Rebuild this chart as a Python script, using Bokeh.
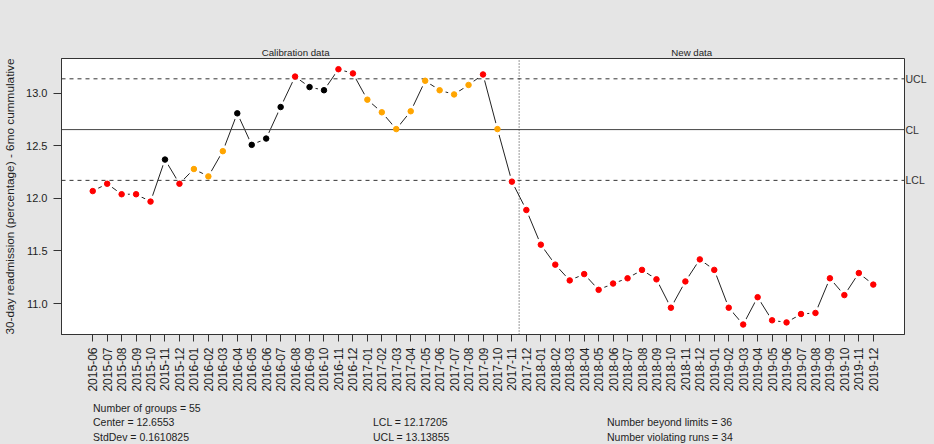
from math import pi
from bokeh.plotting import figure
from bokeh.models import Range1d, FixedTicker, LinearAxis, PrintfTickFormatter, Div
from bokeh.layouts import column
from bokeh.embed import file_html
from bokeh.resources import INLINE

# ---------------- data ----------------
months = [
    "2015-06", "2015-07", "2015-08", "2015-09", "2015-10", "2015-11", "2015-12",
    "2016-01", "2016-02", "2016-03", "2016-04", "2016-05", "2016-06", "2016-07",
    "2016-08", "2016-09", "2016-10", "2016-11", "2016-12",
    "2017-01", "2017-02", "2017-03", "2017-04", "2017-05", "2017-06", "2017-07",
    "2017-08", "2017-09", "2017-10", "2017-11", "2017-12",
    "2018-01", "2018-02", "2018-03", "2018-04", "2018-05", "2018-06", "2018-07",
    "2018-08", "2018-09", "2018-10", "2018-11", "2018-12",
    "2019-01", "2019-02", "2019-03", "2019-04", "2019-05", "2019-06", "2019-07",
    "2019-08", "2019-09", "2019-10", "2019-11", "2019-12",
]

readmission = [
    12.07, 12.14, 12.04, 12.04, 11.97, 12.37, 12.14, 12.28, 12.21, 12.45,
    12.81, 12.51, 12.57, 12.87, 13.16, 13.06, 13.03, 13.23, 13.19, 12.94,
    12.82, 12.66, 12.83, 13.12, 13.03, 12.99, 13.08, 13.18, 12.66, 12.16,
    11.89, 11.56, 11.37, 11.22, 11.28, 11.13, 11.19, 11.24, 11.32, 11.23,
    10.96, 11.21, 11.42, 11.32, 10.96, 10.80, 11.06, 10.84, 10.82, 10.90,
    10.91, 11.24, 11.08, 11.29, 11.18,
]

# b = beyond limits, r = violating runs, o = in control
status = [
    "b", "b", "b", "b", "b", "o", "b", "r", "r", "r",
    "o", "o", "o", "o", "b", "o", "o", "b", "b", "r",
    "r", "r", "r", "r", "r", "r", "r", "b", "r", "b",
    "b", "b", "b", "b", "b", "b", "b", "b", "b", "b",
    "b", "b", "b", "b", "b", "b", "b", "b", "b", "b",
    "b", "b", "b", "b", "b",
]

y_ticks = [11.0, 11.5, 12.0, 12.5, 13.0]
section_labels = ["Calibration data", "New data"]
section_centers = [15.04, 42.44]

N_GROUPS = 55
N_CALIBRATION = 30
CENTER = 12.6553
STDDEV = 0.1610825
LCL = 12.17205
UCL = 13.13855
N_BEYOND = 36
N_RUNS = 34

# ---------------- styling ----------------
BG = "#e5e5e5"
FONT = "Liberation Sans"
INK = "#1e1e1e"
AX = "#333333"
status_color = {"b": "#ff0000", "r": "#ffa500", "o": "#000000"}

idx = list(range(1, len(readmission) + 1))
colors = [status_color[s] for s in status]

X_LO, X_HI = -1.16, 57.16
Y_LO, Y_HI = 10.705, 13.332

W = 934
H_PLOT = 396
H_STATS = 48

p = figure(width=W, height=H_PLOT, output_backend="svg", toolbar_location=None,
           x_range=Range1d(X_LO, X_HI), y_range=Range1d(Y_LO, Y_HI),
           min_border_left=58, min_border_right=30, min_border_top=58,
           min_border_bottom=62, background_fill_color="white",
           border_fill_color=BG, outline_line_color=AX, outline_line_width=1)
p.grid.visible = False

# x axis (bottom)
p.xaxis.ticker = FixedTicker(ticks=idx)
p.xaxis.major_label_overrides = {i: m for i, m in zip(idx, months)}
p.xaxis.major_label_orientation = pi / 2
p.xaxis.minor_tick_line_color = None
p.xaxis.major_tick_in = 0
p.xaxis.major_tick_out = 7
p.xaxis.major_label_standoff = 6
p.xaxis.axis_line_color = AX
p.xaxis.major_tick_line_color = AX
p.xaxis.major_label_text_font = FONT
p.xaxis.major_label_text_font_size = "12px"
p.xaxis.major_label_text_color = INK

# y axis (left)
p.yaxis.ticker = FixedTicker(ticks=y_ticks)
p.yaxis.formatter = PrintfTickFormatter(format="%.1f")
p.yaxis.minor_tick_line_color = None
p.yaxis.major_tick_in = 0
p.yaxis.major_tick_out = 8
p.yaxis.major_label_standoff = 6
p.yaxis.axis_line_color = AX
p.yaxis.major_tick_line_color = AX
p.yaxis.major_label_text_font = FONT
p.yaxis.major_label_text_font_size = "11px"
p.yaxis.major_label_text_color = INK
p.yaxis.axis_label = "30-day readmission (percentage) - 6mo cummulative"
p.yaxis.axis_label_text_font = FONT
p.yaxis.axis_label_text_font_size = "11.8px"
p.yaxis.axis_label_text_font_style = "normal"
p.yaxis.axis_label_text_color = INK
p.yaxis.axis_label_standoff = 6

# limit names on the right
right = LinearAxis(ticker=FixedTicker(ticks=[LCL, CENTER, UCL]),
                   major_label_overrides={LCL: "LCL", CENTER: "CL", UCL: "UCL"},
                   axis_line_color=None, major_tick_line_color=None,
                   minor_tick_line_color=None, major_tick_in=0, major_tick_out=0,
                   major_label_standoff=1, major_label_text_font=FONT,
                   major_label_text_font_size="10.5px",
                   major_label_text_color="#333333")
p.add_layout(right, "right")

# section headers on top
top = LinearAxis(ticker=FixedTicker(ticks=section_centers),
                 major_label_overrides=dict(zip(section_centers, section_labels)),
                 axis_line_color=None, major_tick_line_color=None,
                 minor_tick_line_color=None, major_tick_in=0, major_tick_out=0,
                 major_label_standoff=1, major_label_text_font=FONT,
                 major_label_text_font_size="9.7px", major_label_text_color=INK)
p.add_layout(top, "above")

# connecting line with gaps around the points (R type = "b")
p.line(idx, readmission, line_color="#222222", line_width=1)
p.scatter(idx, readmission, size=12.5, fill_color="white", line_color=None)

# control lines
p.segment(x0=[X_LO, X_LO], y0=[UCL, LCL], x1=[X_HI, X_HI], y1=[UCL, LCL],
          line_color="#333333", line_width=1, line_dash="4 4")
p.segment(x0=[X_LO], y0=[CENTER], x1=[X_HI], y1=[CENTER],
          line_color="#444444", line_width=1)
p.segment(x0=[N_CALIBRATION + 0.5], y0=[Y_LO], x1=[N_CALIBRATION + 0.5], y1=[Y_HI],
          line_color="#333333", line_width=1, line_dash="1 2")

# points
p.scatter(idx, readmission, size=5.5, fill_color=colors, line_color=colors)

# summary statistics below the chart
stats = [
    ("Number of groups = %d" % N_GROUPS, 93, 4.5),
    ("Center = %s" % CENTER, 93, 19),
    ("StdDev = %s" % STDDEV, 93, 34),
    ("LCL = %s" % LCL, 373, 19),
    ("UCL = %s" % UCL, 373, 34),
    ("Number beyond limits = %d" % N_BEYOND, 607, 19),
    ("Number violating runs = %d" % N_RUNS, 607, 34),
]
items = "".join(
    '<div style="position:absolute;left:%dpx;top:%.1fpx;line-height:14px;'
    'white-space:nowrap;">%s</div>' % (x, y, t) for t, x, y in stats)
html_stats = ('<div style="position:relative;width:%dpx;height:%dpx;'
              'font-family:\'%s\';font-size:10.5px;color:%s;">%s</div>'
              % (W, H_STATS, FONT, INK, items))
stats_div = Div(text=html_stats, width=W, height=H_STATS,
                styles={"margin": "0", "padding": "0", "background-color": BG})

layout = column(p, stats_div, spacing=0)

html = file_html(layout, INLINE)
html = html.replace("</head>", "<style>body{background-color:%s;}</style></head>" % BG, 1)
open("out.html", "w").write(html)
